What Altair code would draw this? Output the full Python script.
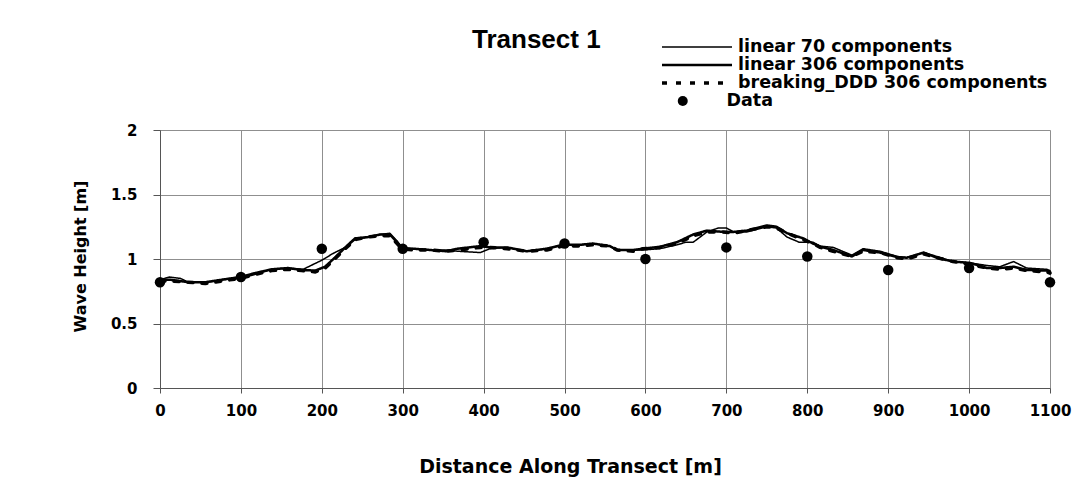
import altair as alt
import pandas as pd

series_names = ["linear 70 components", "linear 306 components", "breaking_DDD 306 components"]

x_lin70 = [0, 12, 25, 35, 56, 70, 77, 99, 117, 138, 158, 177, 190, 200, 213, 229, 241, 257, 272, 284,
           293, 299, 313, 334, 354, 368, 396, 408, 429, 453, 478, 498, 519, 535, 556, 565, 585, 597, 618, 639,
           650, 659, 676, 690, 700, 709, 725, 750, 762, 775, 790, 807, 816, 832, 855, 869, 890, 911, 923, 944,
           960, 980, 1001, 1022, 1038, 1055, 1071, 1096, 1100]
y_lin70 = [0.84, 0.86, 0.85, 0.82, 0.82, 0.83, 0.84, 0.85, 0.88, 0.92, 0.93, 0.92, 0.96, 0.99, 1.04, 1.09, 1.15, 1.17, 1.19, 1.20,
           1.14, 1.09, 1.08, 1.07, 1.07, 1.06, 1.05, 1.08, 1.09, 1.06, 1.08, 1.11, 1.11, 1.12, 1.10, 1.07, 1.07, 1.07, 1.08, 1.11,
           1.13, 1.13, 1.21, 1.24, 1.24, 1.21, 1.21, 1.25, 1.24, 1.17, 1.13, 1.13, 1.10, 1.09, 1.03, 1.08, 1.06, 1.02, 1.01, 1.05,
           1.02, 0.98, 0.97, 0.95, 0.94, 0.98, 0.93, 0.92, 0.91]

x_lin306 = [0, 12, 35, 56, 77, 99, 117, 138, 158, 175, 192, 204, 216, 229, 241, 257, 272, 284, 293, 299,
            313, 334, 354, 368, 396, 408, 429, 453, 478, 498, 519, 535, 556, 565, 585, 597, 618, 639, 659, 676,
            696, 709, 725, 750, 762, 775, 795, 807, 816, 832, 855, 869, 890, 911, 923, 944, 960, 980, 1001, 1022,
            1038, 1055, 1071, 1096, 1100]
y_lin306 = [0.84, 0.84, 0.82, 0.82, 0.84, 0.86, 0.89, 0.92, 0.93, 0.915, 0.91, 0.94, 1.01, 1.09, 1.16, 1.17, 1.19, 1.19, 1.13, 1.08,
            1.08, 1.07, 1.06, 1.08, 1.10, 1.09, 1.09, 1.06, 1.08, 1.11, 1.11, 1.12, 1.10, 1.07, 1.07, 1.08, 1.095, 1.13, 1.19, 1.22,
            1.21, 1.21, 1.22, 1.26, 1.25, 1.20, 1.16, 1.12, 1.095, 1.07, 1.02, 1.07, 1.05, 1.015, 1.01, 1.05, 1.01, 0.98, 0.97, 0.93,
            0.93, 0.94, 0.915, 0.91, 0.90]

x_brk = [0, 12, 35, 56, 77, 99, 117, 138, 158, 175, 192, 204, 216, 229, 241, 257, 272, 284, 293, 299,
         313, 334, 354, 368, 396, 408, 429, 453, 478, 498, 519, 535, 556, 565, 585, 597, 618, 639, 659, 676,
         696, 709, 725, 750, 762, 775, 795, 807, 816, 832, 855, 869, 890, 911, 923, 944, 960, 980, 1001, 1022,
         1038, 1055, 1071, 1096, 1100]
y_brk = [0.83, 0.83, 0.82, 0.81, 0.83, 0.85, 0.88, 0.91, 0.92, 0.91, 0.90, 0.93, 1.00, 1.08, 1.15, 1.17, 1.18, 1.18, 1.12, 1.08,
         1.07, 1.07, 1.06, 1.07, 1.09, 1.09, 1.08, 1.06, 1.07, 1.10, 1.10, 1.11, 1.10, 1.07, 1.06, 1.08, 1.09, 1.12, 1.18, 1.21,
         1.21, 1.20, 1.22, 1.25, 1.24, 1.20, 1.15, 1.12, 1.09, 1.06, 1.02, 1.06, 1.05, 1.01, 1.00, 1.04, 1.01, 0.98, 0.96, 0.93,
         0.92, 0.93, 0.91, 0.90, 0.89]

x_data = [0, 100, 200, 300, 400, 500, 600, 700, 800, 900, 1000, 1100]
y_data = [0.82, 0.86, 1.08, 1.08, 1.13, 1.12, 1.00, 1.09, 1.02, 0.915, 0.93, 0.82]

x_ticks = [0, 100, 200, 300, 400, 500, 600, 700, 800, 900, 1000, 1100]
y_ticks = [0, 0.5, 1, 1.5, 2]

rows = []
for name, xs, ys in [(series_names[0], x_lin70, y_lin70),
                     (series_names[1], x_lin306, y_lin306),
                     (series_names[2], x_brk, y_brk)]:
    for xv, yv in zip(xs, ys):
        rows.append({"x": xv, "h": yv, "series": name})
lines_df = pd.DataFrame(rows)
data_df = pd.DataFrame({"x": x_data, "h": y_data, "kind": ["Data"] * len(x_data)})

FONT = "DejaVu Sans"
label_style = dict(labelFont=FONT, labelFontWeight="bold", labelFontSize=15, labelColor="black",
                   titleFont=FONT, titleFontWeight="bold", titleColor="black",
                   gridColor="#8f8f8f", gridWidth=1, domainColor="#555555", tickColor="#555555",
                   domainWidth=1, tickWidth=1, labelFlush=False)

x_enc = alt.X("x:Q", scale=alt.Scale(domain=[0, 1100], nice=False),
              axis=alt.Axis(values=x_ticks, format="d", title="Distance Along Transect [m]",
                            tickSize=5, labelPadding=10, titleX=410, titleY=78,
                            titleAlign="center", titleBaseline="middle", titleFontSize=19,
                            **label_style))
y_enc = alt.Y("h:Q", scale=alt.Scale(domain=[0, 2], nice=False),
              axis=alt.Axis(values=y_ticks, format="~g", title="Wave Height [m]",
                            tickSize=7, labelPadding=16, titleX=-80, titleY=126,
                            titleAngle=270, titleAlign="center", titleBaseline="middle",
                            titleFontSize=16, **label_style))

lines = alt.Chart(lines_df).mark_line(color="black", strokeJoin="round", strokeCap="round").encode(
    x=x_enc,
    y=y_enc,
    strokeDash=alt.StrokeDash(
        "series:N",
        scale=alt.Scale(domain=series_names, range=[[1, 0], [1, 0], [5, 9]]),
        legend=alt.Legend(title=None, orient="none", legendX=500, legendY=-92,
                          symbolType="stroke", symbolSize=4900, symbolStrokeColor="black",
                          symbolStrokeWidth=1.2, clipHeight=18, rowPadding=0, padding=0,
                          symbolOffset=0, labelOffset=4, labelFont=FONT, labelFontWeight="bold",
                          labelFontSize=17.5, labelColor="black", labelLimit=600),
    ),
    strokeWidth=alt.StrokeWidth(
        "series:N",
        scale=alt.Scale(domain=series_names, range=[1.5, 3.5, 3.0]),
        legend=None,
    ),
)

points = alt.Chart(data_df).mark_point(filled=True, color="black", size=110, opacity=1).encode(
    x=alt.X("x:Q"),
    y=alt.Y("h:Q"),
    shape=alt.Shape(
        "kind:N",
        scale=alt.Scale(domain=["Data"], range=["circle"]),
        legend=alt.Legend(title=None, orient="none", legendX=514, legendY=-38,
                          symbolSize=100, symbolFillColor="black", symbolStrokeColor="black",
                          clipHeight=18, rowPadding=0, padding=0, symbolOffset=0, labelOffset=35,
                          labelFont=FONT, labelFontWeight="bold", labelFontSize=17.5,
                          labelColor="black", labelLimit=300),
    ),
)

chart = alt.layer(lines, points).properties(
    width=890,
    height=258,
    autosize=alt.AutoSizeParams(type="none"),
    padding={"left": 160, "top": 130, "right": 37, "bottom": 105},
    title=alt.TitleParams("Transect 1", font="Liberation Sans", fontWeight="bold", fontSize=26,
                          color="black", anchor="start", frame="group", dx=312, offset=0,
                          dy=36, baseline="alphabetic"),
).configure_view(strokeWidth=0).configure(background="white")

chart.save("out.html", embed_options={"renderer": "svg", "actions": False})
